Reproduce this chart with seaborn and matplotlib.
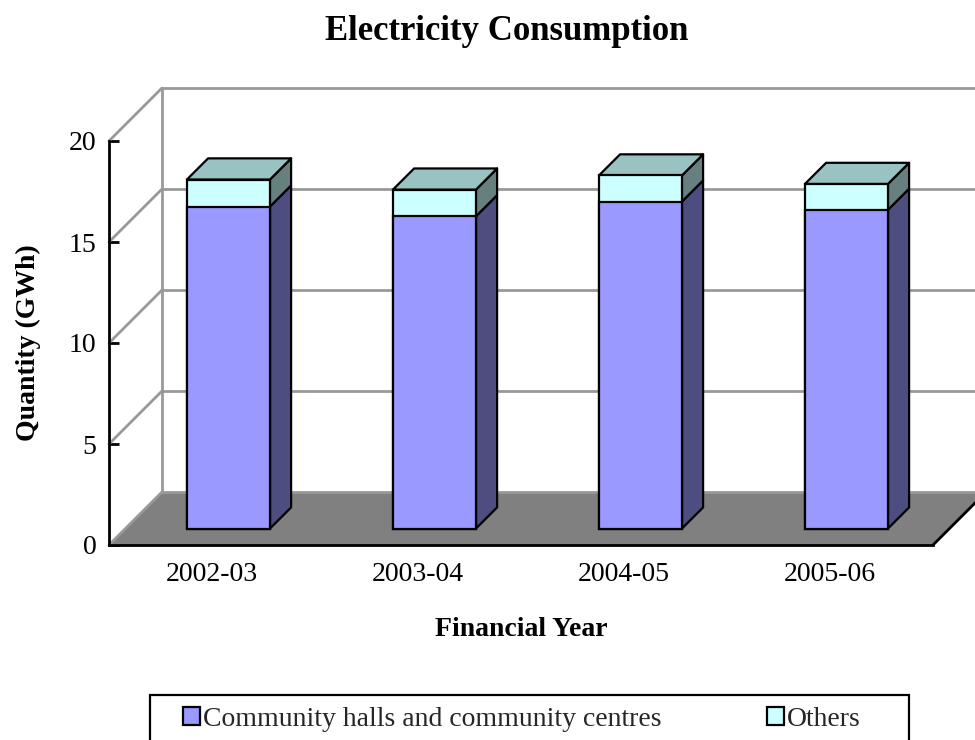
import matplotlib
matplotlib.use("Agg")
import matplotlib.pyplot as plt
import matplotlib.transforms as mtransforms
from matplotlib.patches import Polygon, Patch, Rectangle
import pandas as pd
import seaborn as sns

# ---- data -------------------------------------------------------------
years = ["2002-03", "2003-04", "2004-05", "2005-06"]
community = [15.94, 15.46, 16.19, 15.78]
others = [1.34, 1.32, 1.29, 1.28]
series_names = ["Community halls and community centres", "Others"]
y_ticks = [0, 5, 10, 15, 20]

# ---- style ------------------------------------------------------------
sns.set_theme(style="white")
plt.rcParams["font.family"] = ["Liberation Serif", "DejaVu Serif"]

COMM_FRONT, COMM_SIDE = "#9999FF", "#4D4D80"
OTH_FRONT, OTH_TOP, OTH_SIDE = "#CCFFFF", "#99C2C2", "#668080"
GRID = "#999999"
FLOOR = "#808080"

# oblique depth of the floor, in data units
DX = 0.257   # category units
DY = 2.62    # GWh
D0, D1 = 0.31, 0.71   # front and back of the bars, as fraction of depth

df = pd.DataFrame({"year": years, "community": community, "others": others})
df["total"] = df["community"] + df["others"]

fig = plt.figure(figsize=(9.75, 7.4), dpi=100)
ax = fig.add_axes([109 / 975, 1 - 545 / 740, 824 / 975, 404 / 740])
ax.patch.set_visible(False)

# front faces of the stacked bars
sns.barplot(data=df, x="year", y="total", color=OTH_FRONT, saturation=1,
            width=0.403, edgecolor="black", linewidth=1.6, errorbar=None,
            ax=ax, zorder=5)
n_bars = len(ax.patches)
sns.barplot(data=df, x="year", y="community", color=COMM_FRONT, saturation=1,
            width=0.403, edgecolor="black", linewidth=1.6, errorbar=None,
            ax=ax, zorder=6)
tot_bars = ax.patches[:n_bars]
com_bars = ax.patches[n_bars:]

shift = mtransforms.Affine2D().translate(D0 * DX, D0 * DY) + ax.transData
for p in ax.patches:
    p.set_transform(shift)

ax.set_xlim(-0.5, 3.5)
ax.set_ylim(0, 20)

# side and top faces
ddx, ddy = (D1 - D0) * DX, (D1 - D0) * DY
for pt, pc in zip(tot_bars, com_bars):
    x0 = pt.get_x() + D0 * DX
    w = pt.get_width()
    t = pt.get_height()
    c = pc.get_height()
    b = D0 * DY
    xr = x0 + w
    side_c = [(xr, b), (xr + ddx, b + ddy), (xr + ddx, b + ddy + c), (xr, b + c)]
    side_o = [(xr, b + c), (xr + ddx, b + ddy + c), (xr + ddx, b + ddy + t), (xr, b + t)]
    top = [(x0, b + t), (xr, b + t), (xr + ddx, b + ddy + t), (x0 + ddx, b + ddy + t)]
    for poly, fc in ((side_c, COMM_SIDE), (side_o, OTH_SIDE), (top, OTH_TOP)):
        ax.add_patch(Polygon(poly, closed=True, fc=fc, ec="black", lw=1.6,
                             joinstyle="round", zorder=4, clip_on=False))

# floor
ax.add_patch(Polygon([(-0.5, 0), (3.5, 0), (3.5 + DX, DY), (-0.5 + DX, DY)],
                     closed=True, fc=FLOOR, ec="none", zorder=1, clip_on=False))

# back wall and side wall grid
for v in y_ticks:
    ax.plot([-0.5 + DX, 3.5 + DX], [v + DY, v + DY], color=GRID, lw=2,
            zorder=1.5, clip_on=False, solid_capstyle="butt")
    ax.plot([-0.5, -0.5 + DX], [v, v + DY], color=GRID, lw=2,
            zorder=1.5, clip_on=False)
ax.plot([-0.5 + DX, -0.5 + DX], [DY, 20 + DY], color=GRID, lw=2,
        zorder=1.5, clip_on=False)
# right edge of the floor
ax.plot([3.5, 3.5 + DX], [0, DY], color="black", lw=2, zorder=3, clip_on=False)

# axes lines and ticks
for s in ("top", "right"):
    ax.spines[s].set_visible(False)
for s in ("left", "bottom"):
    ax.spines[s].set_color("black")
    ax.spines[s].set_linewidth(2)
    ax.spines[s].set_zorder(3)

ax.set_yticks(y_ticks)
ax.tick_params(axis="y", direction="in", length=7, width=2, color="black",
               labelsize=20, pad=9, left=True, labelcolor="black")
ax.set_xticks(range(len(years)))
ax.set_xticklabels(years)
ax.set_xticks([0.5, 1.5, 2.5, 3.5], minor=True)
ax.tick_params(axis="x", which="major", length=0, labelsize=20, pad=12,
               labelcolor="black")
ax.tick_params(axis="x", which="minor", direction="in", length=8, width=2,
               color="black", bottom=True)

ax.set_xlabel("Financial Year", fontsize=20, fontweight="bold", labelpad=22,
              color="black")
ax.set_ylabel("Quantity (GWh)", fontsize=20, fontweight="bold", labelpad=20,
              color="black")

fig.text(507 / 975, 1 - 32 / 740, "Electricity Consumption", fontsize=25,
         fontweight="bold", ha="center", va="center", color="black")

# legend
handles = [Patch(fc=COMM_FRONT, ec="black", lw=1.6),
           Patch(fc=OTH_FRONT, ec="black", lw=1.6)]
fig.legend(handles, series_names, loc="center left",
           bbox_to_anchor=(183 / 975, 1 - 719 / 740), ncol=2, frameon=False,
           fontsize=20, handlelength=0.62, handleheight=0.62,
           handletextpad=0.1, columnspacing=3.8, borderpad=0, borderaxespad=0)
fig.patches.append(Rectangle((150 / 975, -0.05), (909 - 150) / 975,
                             0.05 + 1 - 695 / 740, transform=fig.transFigure,
                             fill=False, ec="black", lw=1.6))

fig.savefig("out.png", dpi=100)
